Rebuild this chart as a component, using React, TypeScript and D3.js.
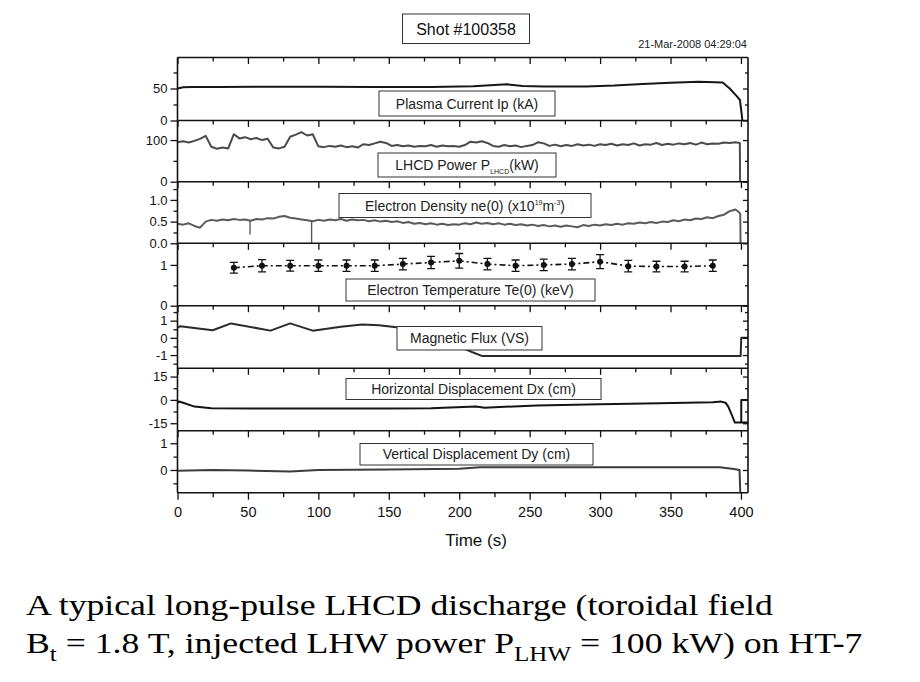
import React, { useEffect, useRef } from "react";
import * as d3 from "d3";

// time axis (s)
const timeMajor = [0, 50, 100, 150, 200, 250, 300, 350, 400];
const timeMinor = [25, 75, 125, 175, 225, 275, 325, 375];

// Plasma current Ip (kA)
const ipTime = [0, 4, 10, 30, 60, 100, 140, 180, 210, 225, 234, 245, 260, 290, 310, 330, 350, 370, 387, 392, 397, 399.3, 400.5, 401];
const ipValue = [50, 52, 52.5, 52.3, 52.6, 52.8, 52.5, 52.3, 53.5, 55.5, 56.5, 54, 53, 53.2, 54.5, 57, 59, 60.5, 59.5, 50, 38, 32, 10, 0];

// LHCD power (kW), sampled every 4 s
const lhcdTime = d3.range(0, 400, 4);
const lhcdValue = [
  95, 97, 94, 98, 103, 110, 84, 79, 82, 80,
  114, 104, 107, 102, 105, 100, 103, 82, 80, 84,
  108, 113, 119, 111, 114, 85, 83, 86, 84, 87,
  83, 85, 82, 90, 88, 92, 96, 93, 86, 88,
  85, 87, 84, 86, 85, 88, 84, 87, 85, 86,
  84, 88, 96, 94, 97, 93, 86, 84, 88, 85,
  87, 83, 86, 88, 95, 92, 86, 89, 85, 88,
  86, 90, 87, 89, 86, 90, 88, 91, 87, 90,
  88, 92, 87, 90, 89, 93, 88, 91, 89, 92,
  90, 93, 89, 94, 90, 92, 91, 94, 93, 95,
];
const lhcdEndTime = [399.2, 399.4];
const lhcdEndValue = [93, 0];

// Electron density ne(0) (1e19 m^-3), sampled every 4 s
const neTime = d3.range(0, 400, 4);
const neValue = [
  0.45, 0.43, 0.46, 0.40, 0.36, 0.50, 0.54, 0.52, 0.55, 0.53,
  0.56, 0.54, 0.55, 0.52, 0.56, 0.55, 0.58, 0.57, 0.61, 0.63,
  0.59, 0.57, 0.55, 0.53, 0.51, 0.54, 0.52, 0.55, 0.53, 0.56,
  0.52, 0.55, 0.53, 0.54, 0.51, 0.53, 0.50, 0.52, 0.49, 0.51,
  0.47, 0.49, 0.45, 0.47, 0.44, 0.46, 0.43, 0.45, 0.42, 0.44,
  0.43, 0.46, 0.44, 0.48, 0.45, 0.47, 0.44, 0.46, 0.43, 0.45,
  0.42, 0.44, 0.41, 0.43, 0.40, 0.42, 0.39, 0.41, 0.38, 0.41,
  0.39, 0.37, 0.42, 0.40, 0.43, 0.41, 0.44, 0.42, 0.45, 0.43,
  0.46, 0.45, 0.48, 0.46, 0.49, 0.47, 0.50, 0.49, 0.53, 0.51,
  0.55, 0.53, 0.57, 0.56, 0.60, 0.58, 0.63, 0.66, 0.74, 0.78,
];
const neEndTime = [398.5, 399.5, 399.7];
const neEndValue = [0.72, 0.68, 0];
const neSpikeTime = [51.5, 95.2];
const neSpikeHigh = [0.53, 0.52];
const neSpikeLow = [0.2, -0.05];

// Electron temperature Te(0) (keV)
const teTime = [40, 60, 80, 100, 120, 140, 160, 180, 200, 220, 240, 260, 280, 300, 320, 340, 360, 380];
const teValue = [0.93, 0.98, 0.98, 0.98, 0.98, 0.98, 1.02, 1.06, 1.1, 1.02, 0.98, 1.0, 1.02, 1.08, 0.97, 0.96, 0.96, 0.98];
const teError = [0.13, 0.15, 0.13, 0.14, 0.14, 0.14, 0.14, 0.15, 0.18, 0.14, 0.14, 0.14, 0.14, 0.17, 0.14, 0.13, 0.13, 0.14];

// Magnetic flux (VS)
const fluxTime = [0, 2, 9, 25, 38, 66, 80, 96, 116, 131, 143, 157, 180, 200, 209, 216, 260, 320, 399.8, 400.2, 405];
const fluxValue = [0.6, 0.68, 0.6, 0.44, 0.84, 0.42, 0.84, 0.42, 0.64, 0.78, 0.74, 0.6, 0.1, -0.5, -0.82, -1.05, -1.05, -1.05, -1.05, 0, 0];

// Horizontal displacement Dx (cm)
const dxTime = [0, 1, 4, 12, 24, 60, 100, 150, 180, 212, 218, 255, 300, 342, 380, 386, 389, 391, 394, 395.7, 405];
const dxValue = [-2, -1, -1.8, -4.3, -5.4, -5.5, -5.6, -5.6, -5.3, -4.3, -5, -3.6, -2.8, -2.1, -1.5, -1.1, -1.8, -4.3, -10.7, -14.6, -14.6];
const dxTailTime = [400.2, 400.2, 405];
const dxTailValue = [-14.6, 0, 0];

// Vertical displacement Dy (cm)
const dyTime = [0, 25, 50, 80, 100, 150, 200, 215, 250, 300, 350, 385, 395, 399, 399.5];
const dyValue = [-0.03, 0, -0.02, -0.06, 0, 0.02, 0.05, 0.1, 0.1, 0.1, 0.1, 0.1, 0.04, 0, -0.85];

// y tick values per panel
const ipMajor = [0, 50], ipMinor = [25, 75];
const lhcdMajor = [0, 100], lhcdMinor = [50];
const neMajor = [0, 0.5, 1.0], neMinor = [0.25, 0.75, 1.25];
const teMajor = [0, 1], teMinor = [0.5];
const fluxMajor = [-1, 0, 1], fluxMinor = [-1.5, -0.5, 0.5, 1.5];
const dxMajor = [-15, 0, 15], dxMinor = [-7.5, 7.5];
const dyMajor = [0, 1], dyMinor = [-0.5, 0.5];

const FONT = "'Liberation Sans', Arial, sans-serif";
const SERIF = "'Liberation Serif', 'Times New Roman', serif";
const LEFT = 177.5, RIGHT = 748;

const pts = (t: number[], v: number[]) => t.map((d, i) => [d, v[i]] as [number, number]);

export default function App() {
  const ref = useRef<SVGSVGElement>(null);

  useEffect(() => {
    const svg = d3.select(ref.current);
    svg.selectAll("*").remove();
    svg.append("rect").attr("width", 920).attr("height", 682).attr("fill", "#fff");
    const defs = svg.append("defs");

    const x = d3.scaleLinear().domain([0, 405]).range([LEFT, RIGHT]);

    const panels = [
      { top: 57.5, bottom: 120.5, domain: [0, 98.4], major: ipMajor, minor: ipMinor, fmt: (d: number) => `${d}`,
        series: [{ d: pts(ipTime, ipValue), c: "#161616", w: 2 }] },
      { top: 120.5, bottom: 181.7, domain: [0, 147], major: lhcdMajor, minor: lhcdMinor, fmt: (d: number) => `${d}`,
        series: [{ d: pts(lhcdTime, lhcdValue).concat(pts(lhcdEndTime, lhcdEndValue)), c: "#4a4a4a", w: 2 }] },
      { top: 181.7, bottom: 243.3, domain: [0, 1.42], major: neMajor, minor: neMinor, fmt: d3.format(".1f"),
        series: [{ d: pts(neTime, neValue).concat(pts(neEndTime, neEndValue)), c: "#5a5a5a", w: 2 }] },
      { top: 243.3, bottom: 305.7, domain: [0, 1.53], major: teMajor, minor: teMinor, fmt: (d: number) => `${d}`,
        series: [] },
      { top: 305.7, bottom: 368.3, domain: [-1.77, 1.87], major: fluxMajor, minor: fluxMinor, fmt: (d: number) => `${d}`,
        series: [{ d: pts(fluxTime, fluxValue), c: "#2a2a2a", w: 2 }] },
      { top: 368.3, bottom: 430.7, domain: [-19.8, 20.3], major: dxMajor, minor: dxMinor, fmt: (d: number) => `${d}`,
        series: [{ d: pts(dxTime, dxValue), c: "#141414", w: 2 }, { d: pts(dxTailTime, dxTailValue), c: "#141414", w: 2 }] },
      { top: 430.7, bottom: 492.7, domain: [-0.85, 1.47], major: dyMajor, minor: dyMinor, fmt: (d: number) => `${d}`,
        series: [{ d: pts(dyTime, dyValue), c: "#3c3c3c", w: 2 }] },
    ];

    const styleAxis = (g: any, size: number) => {
      g.select(".domain").remove();
      g.selectAll("line").attr("stroke", "#111").attr("stroke-width", 1.3);
      g.selectAll("text").attr("font-family", FONT).attr("font-size", size).attr("fill", "#111");
    };

    panels.forEach((p, i) => {
      const y = d3.scaleLinear().domain(p.domain).range([p.bottom, p.top]);

      defs.append("clipPath").attr("id", `clip${i}`).append("rect")
        .attr("x", LEFT).attr("y", p.top).attr("width", RIGHT - LEFT).attr("height", p.bottom - p.top);
      const dg = svg.append("g").attr("clip-path", `url(#clip${i})`);

      const line = d3.line<[number, number]>().x((d) => x(d[0])).y((d) => y(d[1]));
      p.series.forEach((s) => {
        dg.append("path").attr("d", line(s.d)).attr("fill", "none")
          .attr("stroke", s.c).attr("stroke-width", s.w).attr("stroke-linejoin", "round");
      });

      if (i === 2) {
        dg.selectAll(".spike").data(neSpikeTime).join("line")
          .attr("x1", (d) => x(d)).attr("x2", (d) => x(d))
          .attr("y1", (d, k) => y(neSpikeHigh[k])).attr("y2", (d, k) => y(neSpikeLow[k]))
          .attr("stroke", "#5a5a5a").attr("stroke-width", 1.4);
      }

      if (i === 3) {
        const te = pts(teTime, teValue);
        dg.append("path").attr("d", line(te)).attr("fill", "none")
          .attr("stroke", "#111").attr("stroke-width", 1.6).attr("stroke-dasharray", "6,3,2,3");
        const eb = dg.selectAll(".eb").data(te).join("g");
        eb.append("line").attr("x1", (d) => x(d[0])).attr("x2", (d) => x(d[0]))
          .attr("y1", (d, k) => y(d[1] + teError[k])).attr("y2", (d, k) => y(d[1] - teError[k]))
          .attr("stroke", "#111").attr("stroke-width", 1.3);
        [1, -1].forEach((sg) => {
          eb.append("line").attr("x1", (d) => x(d[0]) - 4).attr("x2", (d) => x(d[0]) + 4)
            .attr("y1", (d, k) => y(d[1] + sg * teError[k])).attr("y2", (d, k) => y(d[1] + sg * teError[k]))
            .attr("stroke", "#111").attr("stroke-width", 1.3);
        });
        eb.append("circle").attr("cx", (d) => x(d[0])).attr("cy", (d) => y(d[1])).attr("r", 3).attr("fill", "#111");
      }

      // left axis, ticks outward
      const la = svg.append("g").attr("transform", `translate(${LEFT},0)`)
        .call(d3.axisLeft(y).tickValues(p.major).tickSize(7).tickPadding(3).tickFormat(p.fmt as any));
      styleAxis(la, 13);
      const lm = svg.append("g").attr("transform", `translate(${LEFT},0)`)
        .call(d3.axisLeft(y).tickValues(p.minor).tickSize(4).tickFormat(() => ""));
      styleAxis(lm, 13);

      // right axis, ticks inward
      const ra = svg.append("g").attr("transform", `translate(${RIGHT},0)`)
        .call(d3.axisLeft(y).tickValues(p.major).tickSize(5).tickFormat(() => ""));
      styleAxis(ra, 13);
      const rm = svg.append("g").attr("transform", `translate(${RIGHT},0)`)
        .call(d3.axisLeft(y).tickValues(p.minor).tickSize(3).tickFormat(() => ""));
      styleAxis(rm, 13);

      // top ticks, inward
      const ta = svg.append("g").attr("transform", `translate(0,${p.top})`)
        .call(d3.axisBottom(x).tickValues(timeMajor).tickSize(6.5).tickFormat(() => ""));
      styleAxis(ta, 13);
      const tm = svg.append("g").attr("transform", `translate(0,${p.top})`)
        .call(d3.axisBottom(x).tickValues(timeMinor).tickSize(4).tickFormat(() => ""));
      styleAxis(tm, 13);

      // divider
      svg.append("line").attr("x1", LEFT).attr("x2", RIGHT).attr("y1", p.top).attr("y2", p.top)
        .attr("stroke", "#111").attr("stroke-width", 1.6);
    });

    const last = panels[panels.length - 1];
    svg.append("line").attr("x1", LEFT).attr("x2", RIGHT).attr("y1", last.bottom).attr("y2", last.bottom)
      .attr("stroke", "#111").attr("stroke-width", 1.6);
    [LEFT, RIGHT].forEach((xx) => {
      svg.append("line").attr("x1", xx).attr("x2", xx).attr("y1", panels[0].top).attr("y2", last.bottom)
        .attr("stroke", "#111").attr("stroke-width", 1.6);
    });

    // bottom time axis
    const ba = svg.append("g").attr("transform", `translate(0,${last.bottom})`)
      .call(d3.axisBottom(x).tickValues(timeMajor).tickSize(7).tickPadding(7.5));
    styleAxis(ba, 14.5);
    const bm = svg.append("g").attr("transform", `translate(0,${last.bottom})`)
      .call(d3.axisBottom(x).tickValues(timeMinor).tickSize(4.5).tickFormat(() => ""));
    styleAxis(bm, 14.5);

    svg.append("text").attr("x", 476).attr("y", 546).attr("text-anchor", "middle")
      .attr("font-family", FONT).attr("font-size", 17).attr("fill", "#111").text("Time (s)");

    // title and date
    svg.append("rect").attr("x", 402.5).attr("y", 14).attr("width", 127).attr("height", 29.5)
      .attr("fill", "#fff").attr("stroke", "#333").attr("stroke-width", 1);
    svg.append("text").attr("x", 466).attr("y", 34.5).attr("text-anchor", "middle")
      .attr("font-family", FONT).attr("font-size", 16).attr("fill", "#111").text("Shot #100358");
    svg.append("text").attr("x", 747).attr("y", 48).attr("text-anchor", "end")
      .attr("font-family", FONT).attr("font-size", 11).attr("fill", "#222").text("21-Mar-2008 04:29:04");

    // panel labels
    const boxes = [
      { x0: 379, x1: 555, y0: 91, y1: 116 },
      { x0: 378, x1: 556, y0: 153, y1: 177 },
      { x0: 339, x1: 591, y0: 193.5, y1: 217.5 },
      { x0: 346, x1: 595, y0: 279, y1: 301 },
      { x0: 397, x1: 542, y0: 326.5, y1: 350 },
      { x0: 346, x1: 601, y0: 378.5, y1: 399.5 },
      { x0: 360, x1: 593, y0: 443.5, y1: 465 },
    ];
    const texts = [
      ["Plasma Current Ip (kA)"],
      ["LHCD Power P", "LHCD", "(kW)"],
      ["Electron Density ne(0) (x10", "19", "m", "-3", ")"],
      ["Electron Temperature Te(0) (keV)"],
      ["Magnetic Flux (VS)"],
      ["Horizontal Displacement Dx (cm)"],
      ["Vertical Displacement Dy (cm)"],
    ];
    boxes.forEach((b, i) => {
      svg.append("rect").attr("x", b.x0).attr("y", b.y0).attr("width", b.x1 - b.x0).attr("height", b.y1 - b.y0)
        .attr("fill", "#fff").attr("stroke", "#333").attr("stroke-width", 1);
      const t = svg.append("text").attr("x", (b.x0 + b.x1) / 2).attr("y", (b.y0 + b.y1) / 2 + 5)
        .attr("text-anchor", "middle").attr("font-family", FONT).attr("font-size", 14).attr("fill", "#222");
      const parts = texts[i];
      if (parts.length === 1) {
        t.text(parts[0]);
      } else if (i === 1) {
        t.append("tspan").text(parts[0]);
        t.append("tspan").attr("font-size", 7).attr("dy", 4).text(parts[1]);
        t.append("tspan").attr("dy", -4).text(parts[2]);
      } else {
        t.append("tspan").text(parts[0]);
        t.append("tspan").attr("font-size", 7).attr("dy", -6).text(parts[1]);
        t.append("tspan").attr("dy", 6).text(parts[2]);
        t.append("tspan").attr("font-size", 7).attr("dy", -6).text(parts[3]);
        t.append("tspan").attr("dy", 6).text(parts[4]);
      }
    });

    // caption
    const c1 = svg.append("g").attr("transform", "translate(26,615) scale(1.19,1)");
    c1.append("text").attr("font-family", SERIF).attr("font-size", 30).attr("fill", "#000")
      .text("A typical long-pulse LHCD discharge (toroidal field");
    const c2 = svg.append("g").attr("transform", "translate(26,653) scale(1.19,1)");
    const t2 = c2.append("text").attr("font-family", SERIF).attr("font-size", 30).attr("fill", "#000");
    t2.append("tspan").text("B");
    t2.append("tspan").attr("font-size", 21).attr("dy", 8).text("t");
    t2.append("tspan").attr("dy", -8).text(" = 1.8 T, injected LHW power P");
    t2.append("tspan").attr("font-size", 21).attr("dy", 8).text("LHW");
    t2.append("tspan").attr("dy", -8).text(" = 100 kW) on HT-7");
  }, []);

  return <svg ref={ref} width={920} height={682} style={{ position: "absolute", left: 0, top: 0 }} />;
}
